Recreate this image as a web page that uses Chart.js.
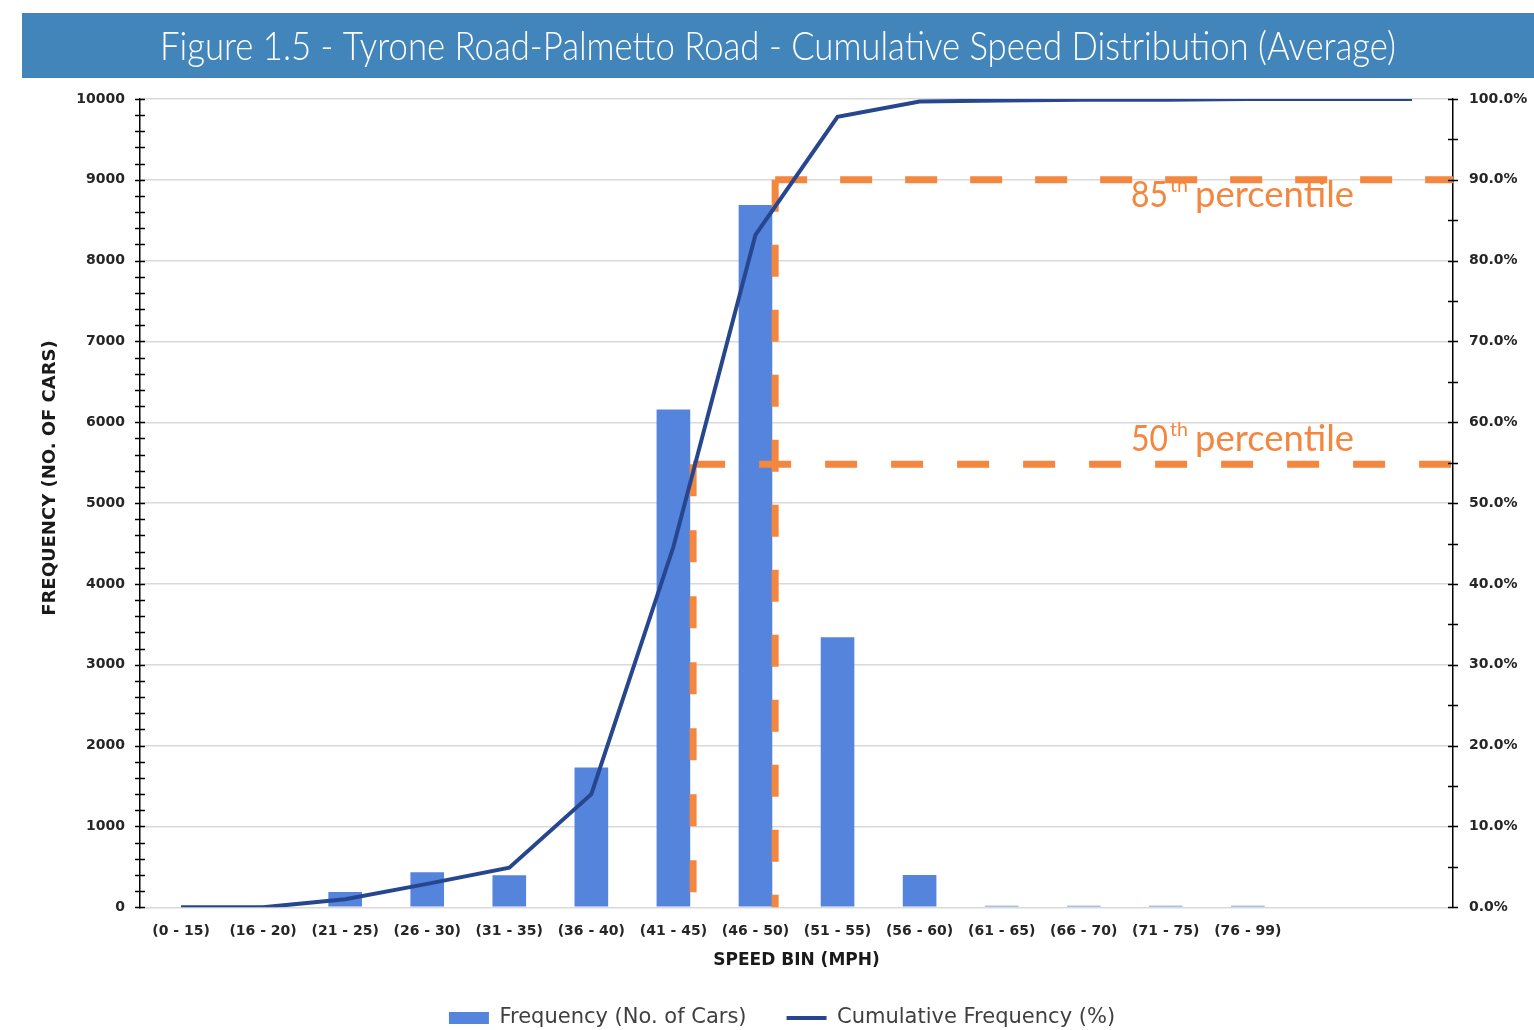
<!DOCTYPE html>
<html>
<head>
<meta charset="utf-8">
<title>Cumulative Speed Distribution</title>
<script src="https://cdn.jsdelivr.net/npm/chart.js@4.4.1/dist/chart.umd.min.js"></script>
<style>
  html, body { margin: 0; padding: 0; background: #ffffff; overflow: hidden; }
  canvas { display: block; }
</style>
</head>
<body>
<canvas id="speedChart" width="1534" height="1030"></canvas>
<script>
// Speed bins (the last two slots are unlabelled and carry only the cumulative line)
const speedBins = ['(0 - 15)', '(16 - 20)', '(21 - 25)', '(26 - 30)', '(31 - 35)', '(36 - 40)',
                   '(41 - 45)', '(46 - 50)', '(51 - 55)', '(56 - 60)', '(61 - 65)', '(66 - 70)',
                   '(71 - 75)', '(76 - 99)', '', ''];
// Number of cars counted in each bin
const carCounts = [0, 0, 190, 434, 397, 1730, 6160, 8690, 3340, 400, 20, 20, 20, 20, null, null];
// Running share of all cars, in percent
const cumulativePct = [0, 0, 1.0, 2.9, 4.9, 14.0, 44.6, 83.2, 97.8, 99.7, 99.8, 99.9, 99.9, 100, 100, 100];

// Percentile guide lines: label number, cumulative level (%), position along the bin axis
const percentileNames = ['50', '85'];
const percentileLevels = [54.8, 90.0];
const percentileBinPos = [6.24, 7.24];

const titleText = 'Figure 1.5 - Tyrone Road-Palmetto Road - Cumulative Speed Distribution (Average)';
const ORANGE = '#f4873f';
const TICK_FONT = { family: '"DejaVu Sans", sans-serif', size: 14, weight: 'bold' };

// Interpolated pixel position between two category centres
function binPixel(xs, pos) {
  const i = Math.floor(pos);
  const a = xs.getPixelForValue(i);
  const b = xs.getPixelForValue(i + 1);
  return a + (b - a) * (pos - i);
}

const bannerPlugin = {
  id: 'banner',
  beforeDraw(chart) {
    const ctx = chart.ctx;
    ctx.save();
    ctx.fillStyle = '#ffffff';
    ctx.fillRect(0, 0, chart.width, chart.height);
    ctx.fillStyle = '#4285bb';
    ctx.fillRect(22, 13, chart.width - 22, 65);
    ctx.fillStyle = '#ffffff';
    ctx.font = '300 40px Lato, "Open Sans", sans-serif';
    ctx.textAlign = 'center';
    ctx.textBaseline = 'alphabetic';
    ctx.fillText(titleText, 778, 60, 1236);
    ctx.restore();
  }
};

const percentilePlugin = {
  id: 'percentiles',
  afterDatasetDraw(chart, args) {
    if (args.meta.type !== 'bar') return;
    const {ctx, chartArea, scales: {x, y2}} = chart;
    const dashes = [[32, 34], [32, 33]];
    ctx.save();
    ctx.strokeStyle = ORANGE;
    ctx.lineWidth = 7;
    percentileLevels.forEach((lvl, i) => {
      const py = y2.getPixelForValue(lvl);
      const px = binPixel(x, percentileBinPos[i]);
      ctx.setLineDash(dashes[i]);
      ctx.beginPath();
      ctx.moveTo(px, py);
      ctx.lineTo(chartArea.right, py);
      ctx.stroke();
      ctx.beginPath();
      ctx.moveTo(px, py);
      ctx.lineTo(px, chartArea.bottom);
      ctx.stroke();
    });
    ctx.restore();
  },
  afterDraw(chart) {
    const {ctx, scales: {y2}} = chart;
    const offsets = [-13, 27];
    ctx.save();
    ctx.fillStyle = ORANGE;
    ctx.textBaseline = 'alphabetic';
    ctx.textAlign = 'left';
    percentileLevels.forEach((lvl, i) => {
      const base = y2.getPixelForValue(lvl) + offsets[i];
      const x0 = 1131;
      ctx.font = '37px Lato, "Open Sans", sans-serif';
      ctx.fillText(percentileNames[i], x0, base, 37);
      ctx.font = '20px Lato, "Open Sans", sans-serif';
      ctx.fillText('th', x0 + 39, base - 15, 18);
      ctx.font = '37px Lato, "Open Sans", sans-serif';
      ctx.fillText('percentile', x0 + 64, base, 159);
    });
    ctx.restore();
  }
};

const axisMarksPlugin = {
  id: 'axisMarks',
  afterDraw(chart) {
    const {ctx, chartArea, scales: {y, y2}} = chart;
    ctx.save();
    ctx.strokeStyle = '#000000';
    ctx.lineWidth = 1.5;
    ctx.beginPath();
    for (let v = 0; v <= 10000; v += 200) {
      const py = Math.round(y.getPixelForValue(v)) + 0.5;
      ctx.moveTo(chartArea.left - 5, py);
      ctx.lineTo(chartArea.left + 5, py);
    }
    for (let v = 0; v <= 100; v += 5) {
      const py = Math.round(y2.getPixelForValue(v)) + 0.5;
      ctx.moveTo(chartArea.right - 5, py);
      ctx.lineTo(chartArea.right + 5, py);
    }
    ctx.stroke();
    // vertical axis title
    ctx.fillStyle = '#1a1a1a';
    ctx.font = 'bold 18px "DejaVu Sans", sans-serif';
    ctx.textAlign = 'center';
    ctx.textBaseline = 'middle';
    ctx.translate(50, 478);
    ctx.rotate(-Math.PI / 2);
    ctx.fillText('FREQUENCY (NO. OF CARS)', 0, 0);
    ctx.restore();
  }
};

new Chart(document.getElementById('speedChart'), {
  data: {
    labels: speedBins,
    datasets: [
      {
        type: 'line',
        label: 'Cumulative Frequency (%)',
        data: cumulativePct,
        yAxisID: 'y2',
        borderColor: '#26478f',
        backgroundColor: '#26478f',
        borderWidth: 4,
        pointRadius: 0,
        tension: 0,
        order: 0
      },
      {
        type: 'bar',
        label: 'Frequency (No. of Cars)',
        data: carCounts,
        yAxisID: 'y',
        backgroundColor: '#5584dc',
        borderWidth: 0,
        barPercentage: 0.41,
        categoryPercentage: 1.0,
        order: 1
      }
    ]
  },
  options: {
    responsive: false,
    animation: false,
    layout: { padding: { top: 99, left: 30, right: 0, bottom: -8.5 } },
    plugins: {
      title: { display: false },
      tooltip: { enabled: false },
      legend: {
        position: 'bottom',
        reverse: true,
        labels: {
          usePointStyle: true,
          pointStyleWidth: 40,
          boxHeight: 12,
          padding: 40,
          color: '#404040',
          font: { family: '"DejaVu Sans", sans-serif', size: 21 },
          generateLabels(chart) {
            const items = Chart.defaults.plugins.legend.labels.generateLabels(chart);
            items.forEach(it => {
              const ds = chart.data.datasets[it.datasetIndex];
              it.pointStyle = ds.type === 'line' ? 'line' : 'rect';
              it.lineWidth = ds.type === 'line' ? 4 : 0;
              it.strokeStyle = ds.borderColor || ds.backgroundColor;
            });
            return items;
          }
        }
      }
    },
    scales: {
      x: {
        afterFit(scale) { scale.height = 60.2; },
        grid: { display: false },
        border: { display: false },
        ticks: {
          padding: 8,
          maxRotation: 0,
          autoSkip: false,
          color: '#262626',
          font: TICK_FONT
        },
        title: {
          display: true,
          text: 'SPEED BIN (MPH)',
          color: '#1a1a1a',
          font: { family: '"DejaVu Sans", sans-serif', size: 17, weight: 'bold' },
          padding: { top: 0, bottom: -3.7 }
        }
      },
      y: {
        position: 'left',
        min: 0,
        max: 10000,
        afterFit(scale) { scale.width = 110; },
        ticks: {
          stepSize: 1000,
          padding: 15,
          color: '#262626',
          font: TICK_FONT,
          callback: v => String(v)
        },
        grid: { color: '#d9d9d9', lineWidth: 1.5, drawTicks: false },
        border: { display: true, color: '#000000', width: 1.5 }
      },
      y2: {
        position: 'right',
        min: 0,
        max: 100,
        afterFit(scale) { scale.width = 81; },
        ticks: {
          stepSize: 10,
          padding: 16,
          color: '#262626',
          font: TICK_FONT,
          callback: v => v.toFixed(1) + '%'
        },
        grid: { display: false, drawTicks: false },
        border: { display: true, color: '#000000', width: 1.5 }
      }
    }
  },
  plugins: [bannerPlugin, percentilePlugin, axisMarksPlugin]
});
</script>
</body>
</html>
